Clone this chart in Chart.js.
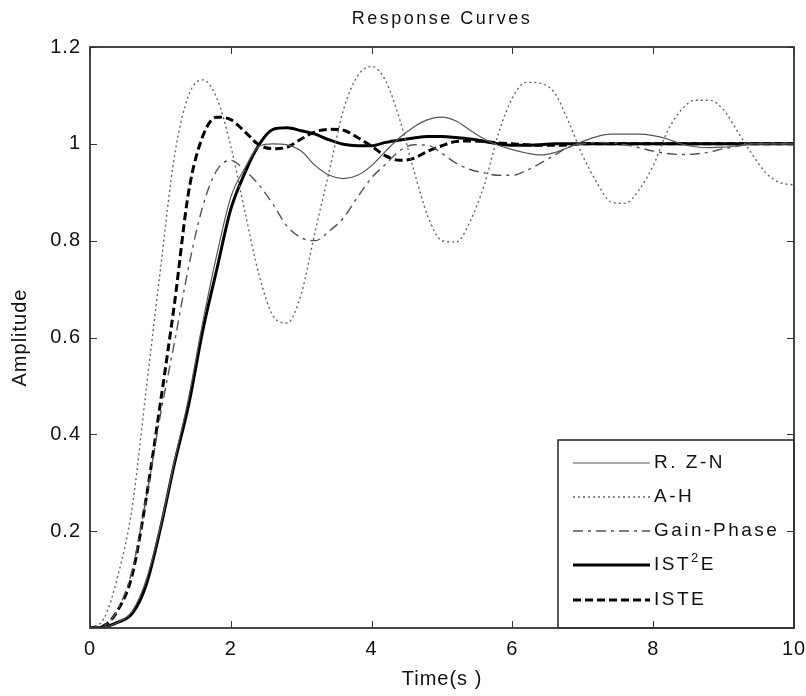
<!DOCTYPE html>
<html>
<head>
<meta charset="utf-8">
<script src="https://cdn.jsdelivr.net/npm/chart.js@4.4.0/dist/chart.umd.min.js"></script>
<style>
  html, body { margin: 0; padding: 0; background: #fff; }
  #wrap { width: 806px; height: 696px; }
</style>
</head>
<body>
<div id="wrap"><canvas id="c"></canvas></div>
<script>
const time = [0, 0.2, 0.4, 0.6, 0.8, 1, 1.2, 1.4, 1.6, 1.8, 2, 2.2, 2.4, 2.6, 2.8, 3, 3.2, 3.4, 3.6, 3.8,
  4, 4.2, 4.4, 4.6, 4.8, 5, 5.2, 5.4, 5.6, 5.8, 6, 6.2, 6.4, 6.6, 6.8, 7, 7.2, 7.4, 7.6, 7.8,
  8, 8.2, 8.4, 8.6, 8.8, 9, 9.2, 9.4, 9.6, 9.8, 10];

const rzn = [0, 0.002, 0.012, 0.035, 0.1, 0.21, 0.345, 0.475, 0.63, 0.77, 0.89, 0.95, 0.995, 1.0, 0.998, 0.985, 0.955, 0.935, 0.928, 0.935,
  0.955, 0.985, 1.013, 1.035, 1.05, 1.055, 1.047, 1.028, 1.01, 0.997, 0.988, 0.981, 0.977, 0.982, 0.993, 1.005, 1.015, 1.02, 1.02, 1.02,
  1.017, 1.01, 1.0, 0.994, 0.992, 0.993, 0.996, 1.0, 1.0, 1.0, 1.0];

const ah = [0, 0.02, 0.11, 0.25, 0.495, 0.74, 0.975, 1.1, 1.132, 1.095, 0.995, 0.86, 0.73, 0.645, 0.63, 0.69, 0.82, 0.945, 1.07, 1.14,
  1.16, 1.13, 1.05, 0.945, 0.85, 0.8, 0.797, 0.84, 0.915, 1.02, 1.095, 1.127, 1.125, 1.105, 1.045, 0.975, 0.92, 0.88, 0.877, 0.905,
  0.955, 1.025, 1.07, 1.09, 1.09, 1.07, 1.025, 0.98, 0.94, 0.92, 0.915];

const gainPhase = [0, 0.005, 0.04, 0.12, 0.27, 0.44, 0.59, 0.745, 0.87, 0.945, 0.966, 0.945, 0.915, 0.875, 0.83, 0.806, 0.8, 0.82, 0.847, 0.89,
  0.93, 0.958, 0.986, 0.998, 0.997, 0.98, 0.96, 0.947, 0.94, 0.935, 0.935, 0.945, 0.96, 0.977, 0.993, 1.0, 1.003, 1.002, 0.998, 0.992,
  0.985, 0.98, 0.978, 0.979, 0.983, 0.99, 0.995, 1.0, 1.0, 1.0, 1.0];

const ist2e = [0, 0.002, 0.012, 0.03, 0.09, 0.205, 0.34, 0.46, 0.613, 0.74, 0.865, 0.94, 0.998, 1.03, 1.033, 1.027, 1.02, 1.008, 0.999, 0.996,
  0.996, 1.003, 1.008, 1.012, 1.015, 1.015, 1.013, 1.01, 1.005, 1.0, 0.997, 0.997, 0.998, 1.0, 1.0, 1.0, 1.0, 1.0, 1.0, 1.0,
  1.0, 1.0, 1.0, 1.0, 1.0, 1.0, 1.0, 1.0, 1.0, 1.0, 1.0];

const iste = [0, 0.005, 0.038, 0.11, 0.27, 0.465, 0.67, 0.9, 1.015, 1.055, 1.05, 1.025, 0.998, 0.99, 0.993, 1.01, 1.025, 1.03, 1.028, 1.013,
  0.995, 0.975, 0.966, 0.97, 0.985, 0.996, 1.005, 1.006, 1.005, 1.002, 1.0, 0.998, 0.997, 0.997, 0.998, 1.0, 1.0, 1.0, 1.0, 1.0,
  1.0, 1.0, 1.0, 1.0, 1.0, 1.0, 1.0, 1.0, 1.0, 1.0, 1.0];

const xTicks = [0, 2, 4, 6, 8, 10];
const yTicks = [0.2, 0.4, 0.6, 0.8, 1, 1.2];
const labels = ['R. Z-N', 'A-H', 'Gain-Phase', 'IST2E', 'ISTE'];

const ff = '"Liberation Sans", Arial, sans-serif';
const pts = arr => time.map((t, i) => ({ x: t, y: arr[i] }));

const styles = [
  { borderColor: '#555', borderWidth: 1.2, borderDash: [] },
  { borderColor: '#666', borderWidth: 1.4, borderDash: [2, 3] },
  { borderColor: '#555', borderWidth: 1.4, borderDash: [10, 5, 3, 5] },
  { borderColor: '#000', borderWidth: 3, borderDash: [] },
  { borderColor: '#000', borderWidth: 3, borderDash: [8, 4] }
];
const series = [rzn, ah, gainPhase, ist2e, iste];

// wider, bitmap-ish text spacing like the original
const spacing = {
  id: 'spacing',
  beforeDraw(chart) { chart.ctx.letterSpacing = '1px'; }
};

// MATLAB-like box, inward ticks, title and legend
const matlabFrame = {
  id: 'matlabFrame',
  afterDatasetsDraw(chart) {
    const { ctx, chartArea: a, scales: { x, y } } = chart;
    ctx.save();
    // legend box
    const lx = 558, ly = 440, lw = a.right - 558, lh = a.bottom - 440;
    ctx.fillStyle = '#fff';
    ctx.fillRect(lx, ly, lw, lh);
    ctx.strokeStyle = '#222';
    ctx.lineWidth = 1.5;
    ctx.strokeRect(lx, ly, lw, lh);
    const rows = [463, 497, 531, 565, 600];
    ctx.letterSpacing = '2.5px';
    ctx.font = '19px ' + ff;
    ctx.textBaseline = 'middle';
    ctx.fillStyle = '#111';
    chart.data.datasets.forEach((ds, i) => {
      ctx.strokeStyle = ds.borderColor;
      ctx.lineWidth = ds.borderWidth;
      ctx.setLineDash(ds.borderDash);
      ctx.beginPath();
      ctx.moveTo(573, rows[i]);
      ctx.lineTo(650, rows[i]);
      ctx.stroke();
      ctx.setLineDash([]);
      if (ds.label === 'IST2E') {
        ctx.fillText('IST', 654, rows[i]);
        const w = ctx.measureText('IST').width;
        ctx.font = '13px ' + ff;
        ctx.fillText('2', 654 + w, rows[i] - 7);
        const w2 = ctx.measureText('2').width;
        ctx.font = '19px ' + ff;
        ctx.fillText('E', 654 + w + w2, rows[i]);
      } else {
        ctx.fillText(ds.label, 654, rows[i]);
      }
    });
    // frame
    ctx.strokeStyle = '#333';
    ctx.lineWidth = 1.8;
    ctx.strokeRect(a.left, a.top, a.right - a.left, a.bottom - a.top);
    ctx.lineWidth = 1;
    xTicks.forEach(v => {
      const px = Math.round(x.getPixelForValue(v)) + 0.5;
      ctx.beginPath();
      ctx.moveTo(px, a.bottom); ctx.lineTo(px, a.bottom - 7);
      ctx.moveTo(px, a.top); ctx.lineTo(px, a.top + 7);
      ctx.stroke();
    });
    yTicks.forEach(v => {
      const py = Math.round(y.getPixelForValue(v)) + 0.5;
      ctx.beginPath();
      ctx.moveTo(a.left, py); ctx.lineTo(a.left + 7, py);
      ctx.moveTo(a.right, py); ctx.lineTo(a.right - 7, py);
      ctx.stroke();
    });
    // title
    ctx.fillStyle = '#111';
    ctx.letterSpacing = '2.5px';
    ctx.font = '18px ' + ff;
    ctx.textAlign = 'center';
    ctx.fillText('Response Curves', (a.left + a.right) / 2, 19);
    ctx.restore();
  }
};

new Chart(document.getElementById('c'), {
  type: 'line',
  data: {
    datasets: series.map((s, i) => ({
      label: labels[i],
      data: pts(s),
      ...styles[i],
      pointRadius: 0,
      fill: false,
      cubicInterpolationMode: 'monotone'
    }))
  },
  options: {
    responsive: true,
    maintainAspectRatio: false,
    animation: false,
    layout: { padding: { top: 47, right: 12, left: 0, bottom: 0 } },
    plugins: { legend: { display: false }, tooltip: { enabled: false } },
    scales: {
      x: {
        type: 'linear', min: 0, max: 10,
        grid: { display: false, drawTicks: false }, border: { display: false },
        afterFit: s => { s.height = 68; s.paddingLeft = 0; s.paddingRight = 0; },
        afterBuildTicks: s => { s.ticks = xTicks.map(v => ({ value: v })); },
        ticks: { color: '#111', padding: 9, maxRotation: 0, font: { size: 20, family: ff } },
        title: { display: true, text: 'Time(s )', color: '#111', padding: { top: 0, bottom: 5 }, font: { size: 20, family: ff } }
      },
      y: {
        type: 'linear', min: 0, max: 1.2,
        grid: { display: false, drawTicks: false }, border: { display: false },
        afterFit: s => { s.width = 90; s.paddingTop = 0; s.paddingBottom = 0; },
        afterBuildTicks: s => { s.ticks = yTicks.map(v => ({ value: v })); },
        ticks: { color: '#111', padding: 9, font: { size: 20, family: ff }, callback: v => String(Math.round(v * 10) / 10) },
        title: { display: true, text: 'Amplitude', color: '#111', padding: { top: 8, bottom: 0 }, font: { size: 20, family: ff } }
      }
    }
  },
  plugins: [spacing, matlabFrame]
});
</script>
</body>
</html>
